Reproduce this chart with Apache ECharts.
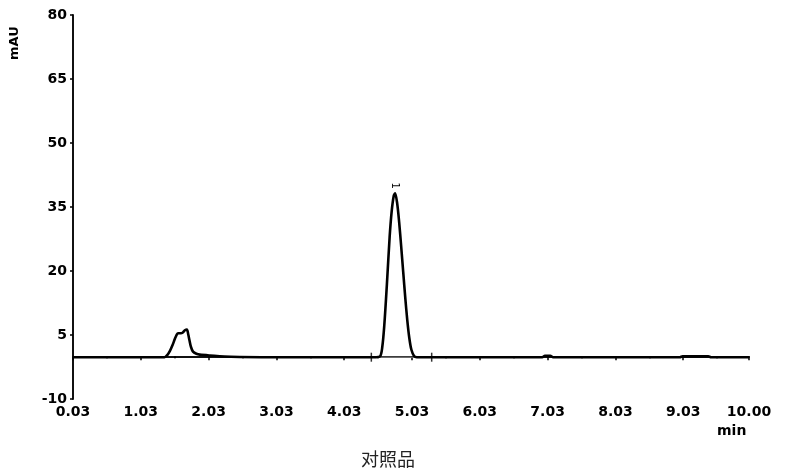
<!DOCTYPE html>
<html>
<head>
<meta charset="utf-8">
<script src="https://cdn.jsdelivr.net/npm/echarts@6/dist/echarts.min.js"></script>
<style>
html,body{margin:0;padding:0;background:#fff;}
#chart{width:800px;height:475px;}
</style>
</head>
<body>
<div id="chart"></div>
<script>
// retention time (min)
var times = [0.03, 0.50, 1.00, 1.30, 1.38, 1.42, 1.46, 1.50, 1.53, 1.56, 1.58, 1.62, 1.65, 1.68, 1.71, 1.73, 1.75, 1.77, 1.80, 1.85, 1.90, 2.05, 2.36, 3.00, 4.00, 4.50, 4.56, 4.59, 4.62, 4.66, 4.70, 4.73, 4.76, 4.78, 4.81, 4.84, 4.87, 4.90, 4.93, 4.96, 4.99, 5.02, 5.06, 5.10, 5.30, 6.00, 6.95, 6.99, 7.07, 7.11, 8.50, 8.98, 9.02, 9.40, 9.44, 10.00];
// absorbance (mAU)
var signal = [-0.2, -0.2, -0.2, -0.2, -0.2, 0.3, 1.3, 2.7, 4.0, 5.1, 5.4, 5.4, 5.6, 6.1, 6.3, 5.1, 3.6, 2.2, 1.1, 0.6, 0.4, 0.2, -0.1, -0.2, -0.2, -0.2, 0.0, 2.0, 7.0, 17.0, 28.0, 34.0, 37.6, 38.2, 36.0, 31.5, 25.8, 19.8, 13.8, 8.5, 4.3, 1.6, 0.1, -0.2, -0.2, -0.2, -0.2, 0.1, 0.1, -0.2, -0.2, -0.2, 0.0, 0.0, -0.2, -0.2];
// integration markers for peak 1
var peakStartEnd = [4.43, 5.32];
var peakApex = [4.78, 38.2];
var peakName = '1';
var yTicks = [-10, 5, 20, 35, 50, 65, 80];
var xMin = 0.03, xMax = 10.00;

var lineData = times.map(function (t, i) { return [t, signal[i]]; });
var markerData = peakStartEnd.map(function (t) { return [t, -0.2]; });

var chart = echarts.init(document.getElementById('chart'));
var labelFont = { fontFamily: 'DejaVu Sans', fontWeight: 'bold', fontSize: 14, color: '#000' };

chart.setOption({
  animation: false,
  backgroundColor: '#fff',
  grid: { left: 73, right: 51, top: 15, bottom: 76 },
  xAxis: {
    type: 'value',
    min: xMin, max: xMax, interval: 1,
    axisLine: { show: true, lineStyle: { color: '#111', width: 2 } },
    axisTick: { show: true, length: 4, lineStyle: { color: '#000', width: 1.5 } },
    minorTick: { show: true, splitNumber: 2, length: 2, lineStyle: { color: '#000', width: 2 } },
    splitLine: { show: false },
    axisLabel: Object.assign({ margin: 6, formatter: function (v) { return v.toFixed(2); } }, labelFont)
  },
  yAxis: {
    type: 'value',
    min: yTicks[0], max: yTicks[yTicks.length - 1], interval: 15,
    axisLine: { show: true, lineStyle: { color: '#111', width: 2 } },
    axisTick: { show: true, length: 3, lineStyle: { color: '#000', width: 1.5 } },
    splitLine: { show: false },
    axisLabel: Object.assign({ margin: 6 }, labelFont)
  },
  series: [
    {
      type: 'line',
      data: [[peakStartEnd[0], -0.2], [peakStartEnd[1], -0.2]],
      symbol: 'none',
      lineStyle: { color: '#999', width: 1 },
      z: 1
    },
    {
      type: 'line',
      data: lineData,
      symbol: 'none',
      smooth: 0.3,
      lineStyle: { color: '#000', width: 2.6 },
      z: 3,
      markPoint: {
        symbol: 'circle',
        symbolSize: 1,
        itemStyle: { color: 'rgba(0,0,0,0)' },
        label: { show: true, formatter: peakName, position: 'top', distance: 4, rotate: -90, align: 'right', verticalAlign: 'middle', fontFamily: 'DejaVu Sans', fontSize: 10, color: '#000' },
        data: [{ coord: peakApex }]
      }
    },
    {
      type: 'scatter',
      data: markerData,
      symbol: 'rect',
      symbolSize: [1.5, 9],
      itemStyle: { color: '#000' },
      z: 4
    }
  ],
  graphic: [
    { type: 'text', left: 717, top: 424, style: { text: 'min', font: 'bold 14px "DejaVu Sans"', fill: '#000' } },
    { type: 'text', x: 8, y: 60, rotation: Math.PI / 2, style: { text: 'mAU', font: 'bold 13px "DejaVu Sans"', fill: '#000' } },
    { type: 'text', left: 361, top: 450, style: { text: '对照品', font: '18px "Noto Sans CJK SC"', fill: '#222' } }
  ]
});
</script>
</body>
</html>
